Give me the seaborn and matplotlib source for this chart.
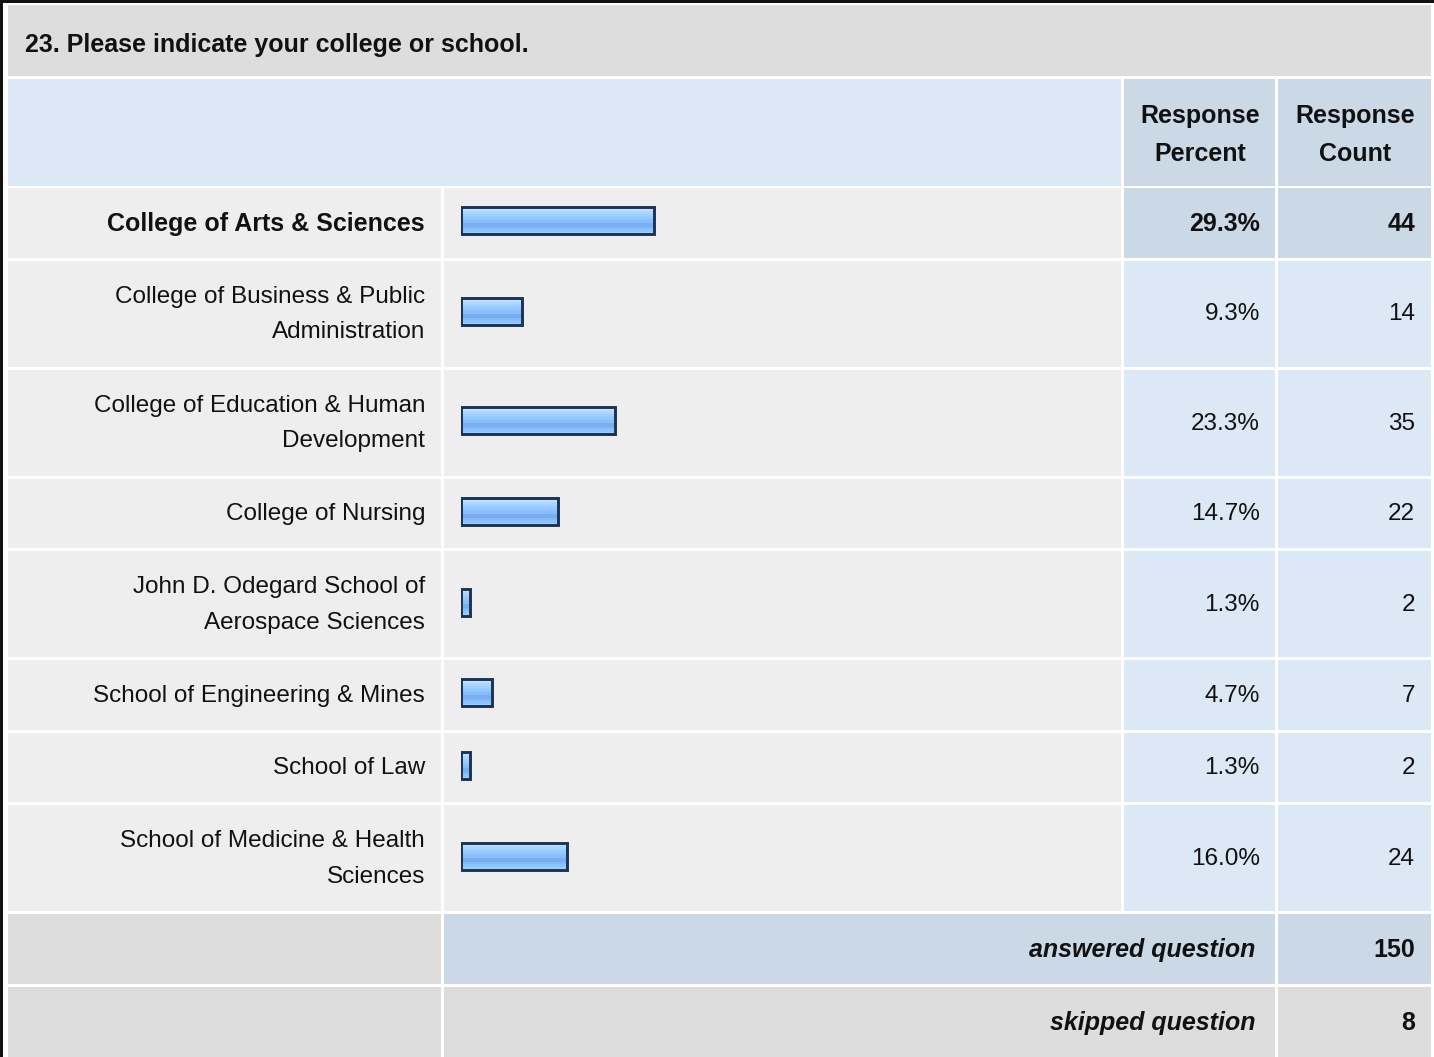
import numpy as np
import pandas as pd
import matplotlib
matplotlib.use("Agg")
import matplotlib.pyplot as plt
from matplotlib.patches import Rectangle
from matplotlib.colors import to_rgb
import seaborn as sns

# ---------------- data ----------------
title = "23. Please indicate your college or school."
header_pct = "Response\nPercent"
header_cnt = "Response\nCount"
categories = [
    "College of Arts & Sciences",
    "College of Business & Public\nAdministration",
    "College of Education & Human\nDevelopment",
    "College of Nursing",
    "John D. Odegard School of\nAerospace Sciences",
    "School of Engineering & Mines",
    "School of Law",
    "School of Medicine & Health\nSciences",
]
percent = [29.3, 9.3, 23.3, 14.7, 1.3, 4.7, 1.3, 16.0]
counts = [44, 14, 35, 22, 2, 7, 2, 24]
answered_label = "answered question"
skipped_label = "skipped question"
answered = 150
skipped = 8

# ---------------- layout (pixels) ----------------
W, H = 1434, 1057
FONT = "Liberation Sans"
FS = 17.5
FSB = 18
LS = 1.8
TXT = "#111111"
sns.set_theme(style="white")
plt.rcParams["font.family"] = [FONT, "DejaVu Sans"]

fig = plt.figure(figsize=(W / 100, H / 100), dpi=100)
fig.patch.set_facecolor("white")
ax = fig.add_axes([0, 0, 1, 1])
ax.set_xlim(0, W)
ax.set_ylim(H, 0)
ax.axis("off")

C_LAB = (8, 441)
C_BAR = (444, 1121)
C_PCT = (1124, 1275)
C_CNT = (1278, 1431)

GRAY = "#dddddd"
LIGHT = "#eeeeee"
BLUE_L = "#dce8f5"
BLUE_D = "#cbd8e6"

def cell(x0, x1, y0, y1, color):
    ax.add_patch(Rectangle((x0, y0), x1 - x0, y1 - y0, facecolor=color,
                           edgecolor="none", zorder=1))

# outer black border (left / top)
ax.add_patch(Rectangle((0, 0), 3, H, facecolor="#111111", edgecolor="none", zorder=2))
ax.add_patch(Rectangle((0, 0), W, 3, facecolor="#111111", edgecolor="none", zorder=2))

# title row
cell(C_LAB[0], C_CNT[1], 5, 76, GRAY)
ax.text(25, 45, title, fontsize=FSB, fontweight="bold", ha="left", va="center",
        color=TXT, zorder=5)

# header row
cell(C_LAB[0], C_BAR[1], 79, 186, BLUE_L)
cell(C_PCT[0], C_PCT[1], 79, 186, BLUE_D)
cell(C_CNT[0], C_CNT[1], 79, 186, BLUE_D)
for (c0, c1), txt in [(C_PCT, header_pct), (C_CNT, header_cnt)]:
    ax.text((c0 + c1) / 2 + 1, 135, txt, fontsize=FSB, fontweight="bold",
            ha="center", va="center", linespacing=1.72, color=TXT, zorder=5)

# answer rows
ONE, TWO, GAP = 69.5, 106, 3
y = 188
bounds = []
for cat in categories:
    h = TWO if "\n" in cat else ONE
    bounds.append((y, y + h))
    y += h + GAP
centers = [(a + b) / 2 for a, b in bounds]

top_idx = int(np.argmax(percent))
for i, (cat, p, n, (y0, y1)) in enumerate(zip(categories, percent, counts, bounds)):
    hl = i == top_idx
    cell(C_LAB[0], C_LAB[1], y0, y1, LIGHT)
    cell(C_BAR[0], C_BAR[1], y0, y1, LIGHT)
    cell(C_PCT[0], C_PCT[1], y0, y1, BLUE_D if hl else BLUE_L)
    cell(C_CNT[0], C_CNT[1], y0, y1, BLUE_D if hl else BLUE_L)
    wt = "bold" if hl else "normal"
    fs = FSB if hl else FS
    yc = (y0 + y1) / 2 + 1
    ax.text(425, yc, cat, fontsize=fs, fontweight=wt, ha="right", va="center",
            linespacing=LS, color=TXT, zorder=5)
    ax.text(1260, yc, f"{p:.1f}%", fontsize=fs, fontweight=wt, ha="right",
            va="center", color=TXT, zorder=5)
    ax.text(1415, yc, f"{n}", fontsize=fs, fontweight=wt, ha="right",
            va="center", color=TXT, zorder=5)

# summary rows
ya0 = y
ya1 = ya0 + ONE
cell(C_LAB[0], C_LAB[1], ya0, ya1, GRAY)
cell(C_BAR[0], C_PCT[1], ya0, ya1, BLUE_D)
cell(C_CNT[0], C_CNT[1], ya0, ya1, BLUE_D)
ys0 = ya1 + GAP
ys1 = H
cell(C_LAB[0], C_LAB[1], ys0, ys1, GRAY)
cell(C_BAR[0], C_PCT[1], ys0, ys1, GRAY)
cell(C_CNT[0], C_CNT[1], ys0, ys1, GRAY)
for (a, b), lab, val in [((ya0, ya1), answered_label, answered),
                         ((ys0, ys1), skipped_label, skipped)]:
    yc = (a + b) / 2 + 1
    ax.text(1255, yc, lab, fontsize=FSB, fontweight="bold", fontstyle="italic",
            ha="right", va="center", color=TXT, zorder=5)
    ax.text(1415, yc, f"{val}", fontsize=FSB, fontweight="bold",
            ha="right", va="center", color=TXT, zorder=5)

# ---------------- bars (seaborn) ----------------
BAR_X0 = 461
SCALE_PX = 660  # pixels for 100 %
BAR_DY = -2     # bars sit slightly above the row centre
ax2 = fig.add_axes([BAR_X0 / W, 0, SCALE_PX / W, 1])
ax2.patch.set_alpha(0)
df = pd.DataFrame({"pct": percent, "pos": [c + BAR_DY for c in centers],
                   "cat": categories})
min_gap = np.diff(np.sort(centers)).min()
sns.barplot(data=df, x="pct", y="pos", orient="h", native_scale=True,
            width=27 / min_gap, color="#99ccff", edgecolor="#1b3353",
            linewidth=2.1, errorbar=None, ax=ax2)

grad_cols = ["#d2e9ff", "#bfdfff", "#acd5ff", "#a0cfff", "#97caff", "#8ec4ff",
             "#86bdfa", "#79aff0", "#78aef0", "#82b9f8", "#8cc3ff", "#9ccdff"]
grad = np.array([to_rgb(c) for c in grad_cols])[:, None, :]
for patch in list(ax2.patches):
    x0, y0 = patch.get_x(), patch.get_y()
    w, h = patch.get_width(), patch.get_height()
    im = ax2.imshow(grad, extent=(x0, x0 + w, y0 + h, y0), origin="upper",
                    aspect="auto", interpolation="nearest", zorder=2)
    im.set_clip_path(patch)
    patch.set_facecolor((0, 0, 0, 0))
    patch.set_zorder(3)

ax2.set_xlim(0, 100)
ax2.set_ylim(H, 0)
ax2.axis("off")

fig.savefig("out.png", dpi=100, facecolor="white")
